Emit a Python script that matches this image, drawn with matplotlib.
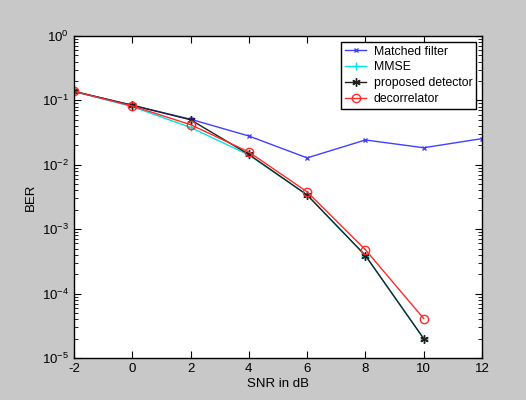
import matplotlib
matplotlib.use("Agg")
import matplotlib.pyplot as plt
from matplotlib.ticker import LogLocator, NullFormatter

snr = [-2, 0, 2, 4, 6, 8, 10, 12]
snr_det = [-2, 0, 2, 4, 6, 8, 10]
matched = [0.138, 0.084, 0.051, 0.028, 0.0128, 0.0243, 0.0184, 0.0255]
mmse = [0.138, 0.080, 0.038, 0.0142, 0.0034, 0.00039, 2.0e-5]
proposed = [0.138, 0.084, 0.050, 0.0145, 0.0034, 0.00039, 2.0e-5]
decorr = [0.138, 0.0818, 0.0420, 0.0158, 0.0038, 0.00048, 4.1e-5]
labels = ["Matched filter", "MMSE", "proposed detector", "decorrelator"]

plt.rcParams['font.family'] = ['Liberation Sans', 'DejaVu Sans']
plt.rcParams['axes.unicode_minus'] = False
plt.rcParams['mathtext.fontset'] = 'custom'
plt.rcParams['mathtext.rm'] = 'Liberation Sans'
plt.rcParams['mathtext.it'] = 'Liberation Sans'
plt.rcParams['mathtext.bf'] = 'Liberation Sans'

fig = plt.figure(figsize=(5.26, 4.0), dpi=100, facecolor='#c8c8c8')
ax = fig.add_axes([0.1407, 0.105, 0.7756, 0.805])
ax.set_facecolor('white')

ax.semilogy(snr, matched, color='#4040ff', marker='x', ms=3.5, lw=1, mew=1, label=labels[0])
ax.semilogy(snr_det, mmse, color='#00e5e5', marker='+', ms=6, lw=1, label=labels[1])
ax.semilogy(snr_det, proposed, color='#202020', marker=(6, 2, 0), ms=6, lw=1, label=labels[2])
ax.semilogy(snr_det, decorr, color='#ff2a2a', marker='o', mfc='none', ms=6, lw=1, label=labels[3])

ax.set_xlim(-2, 12)
ax.set_ylim(1e-5, 1)
ax.set_xticks(range(-2, 13, 2))
ax.yaxis.set_major_locator(LogLocator(base=10, numticks=10))
ax.yaxis.set_minor_locator(LogLocator(base=10, subs=range(2, 10), numticks=10))
ax.yaxis.set_minor_formatter(NullFormatter())
ax.tick_params(which='both', direction='in', top=True, right=True, labelsize=9.5, colors='black')
ax.tick_params(which='major', length=5)
ax.tick_params(which='minor', length=3)
for s in ax.spines.values():
    s.set_linewidth(1)
ax.set_xlabel('SNR in dB', fontsize=9.5, labelpad=2)
ax.set_ylabel('BER', fontsize=9.5)

leg = ax.legend(loc='upper right', fontsize=8.8, fancybox=False, framealpha=1,
                edgecolor='black', borderaxespad=0.45, handlelength=1.7,
                labelspacing=0.3, borderpad=0.35, handletextpad=0.6)
leg.get_frame().set_linewidth(1)

fig.savefig('out.png', dpi=100, facecolor=fig.get_facecolor())
